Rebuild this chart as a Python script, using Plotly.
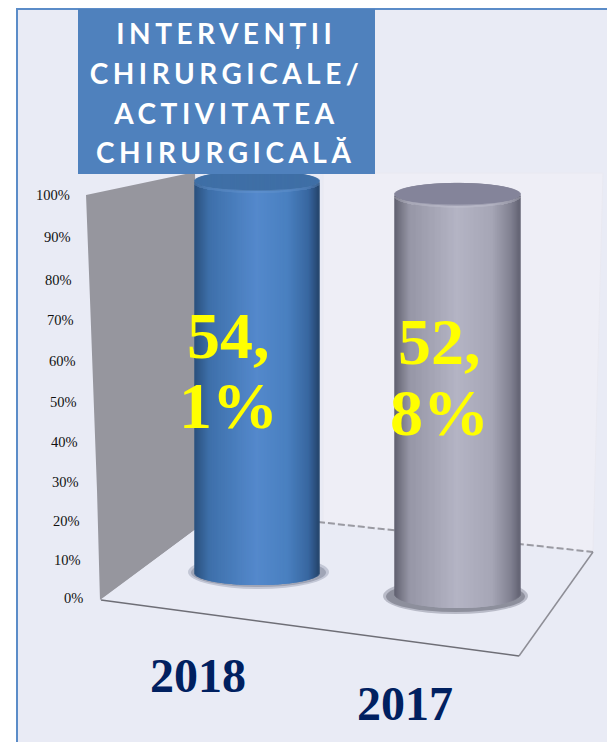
import math
import plotly.graph_objects as go

# ---- data ----
categories = ["2018", "2017"]
share_labels = ["54,1%", "52,8%"]
bar_bases = [6.2, 1.0]
bar_tops = [103.5, 100.2]
tick_values = [0, 10, 20, 30, 40, 50, 60, 70, 80, 90, 100]
tick_labels = ["0%", "10%", "20%", "30%", "40%", "50%", "60%", "70%", "80%", "90%", "100%"]
title_lines = ["INTERVENȚII", "CHIRURGICALE/", "ACTIVITATEA", "CHIRURGICALĂ"]

# ---- layout and style ----
W, H = 607, 742
PX_X0, PX_PER_CAT = 257.0, 200.5
PX_Y0, PX_PER_PCT = 598.0, 4.03
x_range = [-PX_X0 / PX_PER_CAT, (W - PX_X0) / PX_PER_CAT]
y_range = [(PX_Y0 - H) / PX_PER_PCT, PX_Y0 / PX_PER_PCT]


def fx(p):
    return p / W


def fy(p):
    return 1 - p / H


def poly(points):
    return "M " + " L ".join(f"{fx(a):.4f},{fy(b):.4f}" for a, b in points) + " Z"


def lerp_stops(stops, t):
    for (t0, c0), (t1, c1) in zip(stops, stops[1:]):
        if t <= t1:
            k = (t - t0) / (t1 - t0)
            return "rgb(%d,%d,%d)" % tuple(round(a + (b - a) * k) for a, b in zip(c0, c1))
    return "rgb(%d,%d,%d)" % stops[-1][1]


shades = [
    [(0, (42, 80, 125)), (0.12, (62, 112, 170)), (0.5, (84, 137, 204)), (0.75, (74, 128, 192)),
     (0.92, (56, 103, 160)), (1, (38, 70, 110))],
    [(0, (96, 96, 110)), (0.12, (150, 150, 166)), (0.5, (180, 180, 196)), (0.78, (166, 166, 182)),
     (0.93, (130, 130, 146)), (1, (100, 100, 116))],
]
cap_colors = ["#3f6fa6", "#85859a"]
rim_colors = ["#6c9ad2", "#c8c8d6"]
half_widths = [62.0, 62.5]
bottom_round = [3.0, 3.5]
top_round = [2.5, 2.8]
N = 125

fig = go.Figure()
for i, cat in enumerate(categories):
    hw = half_widths[i] / PX_PER_CAT
    xs, body_b, body_y, cols, cap_b, cap_y, rim_b, rim_y = [], [], [], [], [], [], [], []
    for k in range(N):
        u = -1 + (2 * k + 1) / N
        s = math.sqrt(max(0, 1 - u * u))
        xs.append(i + u * hw)
        b = bar_bases[i] - bottom_round[i] * s
        t = bar_tops[i] - top_round[i] * s
        body_b.append(b)
        body_y.append(t - b)
        cols.append(lerp_stops(shades[i], (u + 1) / 2))
        cap_b.append(bar_tops[i] - top_round[i] * s)
        cap_y.append(2 * top_round[i] * s)
        rim_b.append(t - 0.5)
        rim_y.append(0.7 * s)
    w = 2 * hw / N * 2.5
    fig.add_trace(go.Bar(x=xs, y=body_y, base=body_b, width=w, name=cat,
                         marker=dict(color=cols, line=dict(width=0)), hoverinfo="skip"))
    fig.add_trace(go.Bar(x=xs, y=cap_y, base=cap_b, width=w, showlegend=False,
                         marker=dict(color=cap_colors[i], line=dict(width=0)), hoverinfo="skip"))
    fig.add_trace(go.Bar(x=xs, y=rim_y, base=rim_b, width=w, showlegend=False, opacity=0.35,
                         marker=dict(color=rim_colors[i], line=dict(width=0)), hoverinfo="skip"))

shapes = [
    dict(type="rect", xref="paper", yref="paper", x0=fx(17), x1=1.01, y0=-0.01, y1=fy(9),
         fillcolor="#e9ebf5", line=dict(color="#5b8cc8", width=2), layer="below"),
    dict(type="path", xref="paper", yref="paper", layer="below", fillcolor="#eeeef6",
         path=poly([(323, 173), (603, 173), (593, 552), (323, 522)]),
         line=dict(color="#e9e9f1", width=1)),
    dict(type="path", xref="paper", yref="paper", layer="below", fillcolor="#96969e",
         path=poly([(86, 195), (195, 172), (200, 526), (100, 600), (97, 490), (90, 300)]),
         line=dict(width=0)),
    dict(type="path", xref="paper", yref="paper", layer="below", fillcolor="#e9ebf5",
         path=poly([(101, 600), (200, 526), (318, 522), (593, 552), (519, 656)]),
         line=dict(width=0)),
    dict(type="line", xref="paper", yref="paper", layer="below", x0=fx(318), y0=fy(522), x1=fx(593), y1=fy(552),
         line=dict(color="#9a9aa2", width=2, dash="7px,3px")),
    dict(type="line", xref="paper", yref="paper", layer="below", x0=fx(519), y0=fy(656), x1=fx(593), y1=fy(552),
         line=dict(color="#8e8e96", width=1.5)),
    dict(type="line", xref="paper", yref="paper", layer="below", x0=fx(101), y0=fy(600), x1=fx(519), y1=fy(656),
         line=dict(color="#6e6e76", width=1.5)),
    dict(type="circle", xref="paper", yref="paper", layer="below", x0=fx(188), x1=fx(329), y0=fy(589), y1=fy(555),
         fillcolor="#c3c7d6", line=dict(width=0)),
    dict(type="circle", xref="paper", yref="paper", layer="below", x0=fx(191), x1=fx(326), y0=fy(587), y1=fy(558),
         fillcolor="#a0a5b6", line=dict(width=0)),
    dict(type="circle", xref="paper", yref="paper", layer="below", x0=fx(383), x1=fx(528), y0=fy(614), y1=fy(578),
         fillcolor="#b9bbc8", line=dict(width=0)),
    dict(type="circle", xref="paper", yref="paper", layer="below", x0=fx(386), x1=fx(525), y0=fy(612), y1=fy(581),
         fillcolor="#8d8f9c", line=dict(width=0)),
    dict(type="rect", xref="paper", yref="paper", layer="above", x0=fx(78), x1=fx(375), y0=fy(174), y1=fy(9),
         fillcolor="#4f81bd", line=dict(width=0)),
]

annotations = []
# value-axis labels follow the slanted wall of the 3-D chart
tick_right = [85, 83, 82, 81, 80, 79, 78, 76, 74, 72.5, 71.5]
tick_px = [598, 560, 521, 482, 442, 402, 361, 320, 280, 237, 195]
for v, lab, r, p in zip(tick_values, tick_labels, tick_right, tick_px):
    annotations.append(dict(xref="paper", yref="y", x=fx(r), y=v, yshift=(PX_Y0 - PX_PER_PCT * v - p),
                            text=lab, showarrow=False, xanchor="right", yanchor="middle",
                            font=dict(family="Liberation Serif", size=14.5, color="#111111")))

title_y = [33, 73, 113, 152]
for line, p in zip(title_lines, title_y):
    annotations.append(dict(xref="paper", yref="paper", x=fx(226), y=fy(p), text=line, showarrow=False,
                            xanchor="center", yanchor="middle",
                            font=dict(family="Lato", size=28, color="white", weight=700)))

label_x = [228, 439]
label_y = [[335, 405], [342, 412]]
for i, lab in enumerate(share_labels):
    a, b = lab.split(",")
    for txt, p in zip([a + ",", b], label_y[i]):
        annotations.append(dict(xref="paper", yref="paper", x=fx(label_x[i]), y=fy(p), text=txt, showarrow=False,
                                xanchor="center", yanchor="middle",
                                font=dict(family="Liberation Serif", size=66, color="#ffff00", weight=700)))

cat_pos = [(198, 675), (405, 703)]
for cat, (a, b) in zip(categories, cat_pos):
    annotations.append(dict(xref="paper", yref="paper", x=fx(a), y=fy(b), text=cat, showarrow=False,
                            xanchor="center", yanchor="middle",
                            font=dict(family="Liberation Serif", size=48, color="#002060", weight=700)))

fig.update_layout(
    width=W, height=H, autosize=False, margin=dict(l=0, r=0, t=0, b=0),
    paper_bgcolor="white", plot_bgcolor="rgba(0,0,0,0)", barmode="overlay", showlegend=False,
    xaxis=dict(range=x_range, visible=False, fixedrange=True),
    yaxis=dict(range=y_range, tickvals=tick_values, showticklabels=False, showgrid=False, zeroline=False,
               ticks="", showline=False, fixedrange=True),
    shapes=shapes, annotations=annotations,
)

css = """
document.body.style.margin='0';document.body.style.overflow='hidden';
document.querySelectorAll('.annotation-text').forEach(function(t){
  if(/[A-Z]{5,}/.test(t.textContent)){t.style.letterSpacing='4.5px';}
});
"""
fig.write_html("out.html", post_script=css, config=dict(displayModeBar=False))
